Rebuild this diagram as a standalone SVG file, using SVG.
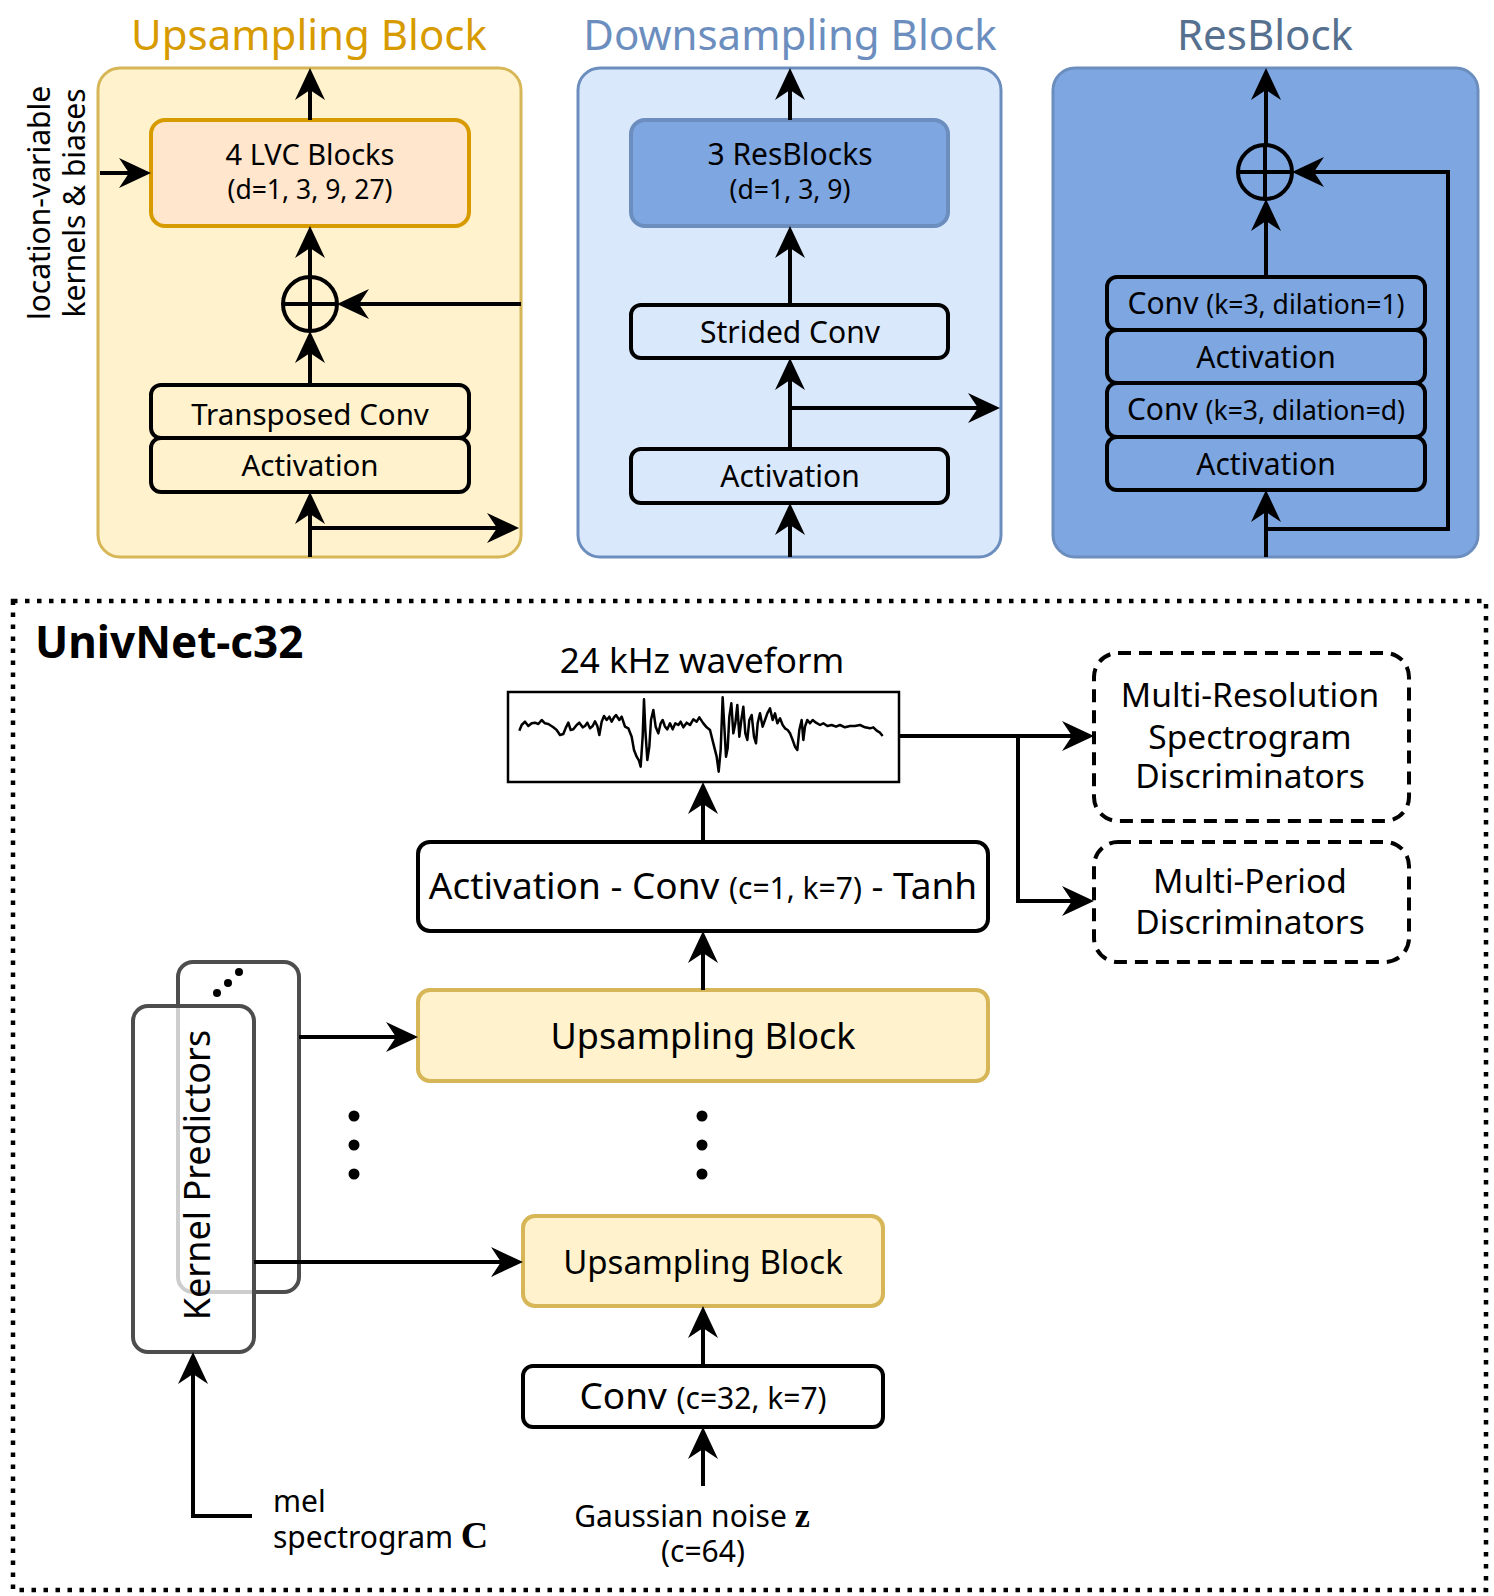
<svg xmlns="http://www.w3.org/2000/svg" width="1494" height="1596" viewBox="0 0 1494 1596">
<defs>
<style>
text{font-family:"Noto Sans","Open Sans","DejaVu Sans",sans-serif;fill:#000}
.t{font-size:30px;text-anchor:middle}
.title{font-size:42px;text-anchor:middle}
.box{fill:#fff;stroke:#000;stroke-width:4}
.ln{fill:none;stroke:#000;stroke-width:4}
.arr{fill:none;stroke:#000;stroke-width:4;marker-end:url(#ah)}
.up{fill:#FFF2CC;stroke:#D6B656;stroke-width:4}
.kp{stroke:#4D4D4D;stroke-width:4}
.disc{fill:#fff;stroke:#000;stroke-width:4;stroke-dasharray:13 8}
.math{font-family:"Liberation Serif","DejaVu Serif",serif;font-weight:bold}
</style>
<marker id="ah" viewBox="0 0 32 30" refX="24" refY="15" markerWidth="32" markerHeight="30" markerUnits="userSpaceOnUse" orient="auto">
<path d="M0,0 L32,15 L0,30 L10,15 Z" fill="#000"/>
</marker>
</defs>
<rect width="1494" height="1596" fill="#fff"/>

<!-- Upsampling Block detail -->
<g id="upsampling-detail">
<text class="title" x="309" y="50" style="fill:#D79B00">Upsampling Block</text>
<rect x="98" y="68" width="423" height="489" rx="22" fill="#FFF2CC" stroke="#D6B656" stroke-width="3"/>
<g id="lvc"><rect x="151" y="120" width="318" height="106" rx="14" fill="#FFE6CC" stroke="#D79B00" stroke-width="4"/>
<text class="t" x="310" y="165" style="font-size:29px">4 LVC Blocks<tspan x="310" dy="34" style="font-size:26.5px">(d=1, 3, 9, 27)</tspan></text></g>
<g id="upsum"><circle cx="310" cy="304" r="27" fill="none" stroke="#000" stroke-width="4"/>
<line x1="283" y1="304" x2="337" y2="304" class="ln"/></g>
<g id="tconv"><rect x="151" y="385" width="318" height="53" rx="10" fill="none" stroke="#000" stroke-width="4"/>
<text class="t" x="310" y="425" style="font-size:29.5px">Transposed Conv</text></g>
<g id="uact"><rect x="151" y="438" width="318" height="54" rx="10" fill="none" stroke="#000" stroke-width="4"/>
<text class="t" x="310" y="476" style="font-size:29.5px">Activation</text></g>
<text x="50" y="203" transform="rotate(-90 50 203)" style="font-size:30px;text-anchor:middle">location-variable<tspan x="50" dy="35">kernels &amp; biases</tspan></text>
</g>

<!-- Downsampling Block detail -->
<g id="downsampling-detail">
<text class="title" x="790" y="50" style="fill:#6C8EBF">Downsampling Block</text>
<rect x="578" y="68" width="423" height="489" rx="22" fill="#DAE8FC" stroke="#6C8EBF" stroke-width="3"/>
<g id="resblocks3"><rect x="631" y="120" width="317" height="106" rx="14" fill="#7EA6E0" stroke="#6C8EBF" stroke-width="4"/>
<text class="t" x="790" y="165">3 ResBlocks<tspan x="790" dy="34" style="font-size:26.5px">(d=1, 3, 9)</tspan></text></g>
<g id="strided"><rect x="631" y="305" width="317" height="53" rx="10" fill="#DAE8FC" stroke="#000" stroke-width="4"/>
<text class="t" x="790" y="343">Strided Conv</text></g>
<g id="dact"><rect x="631" y="449" width="317" height="54" rx="10" fill="#DAE8FC" stroke="#000" stroke-width="4"/>
<text class="t" x="790" y="487">Activation</text></g>
</g>

<!-- ResBlock detail -->
<g id="resblock-detail">
<text class="title" x="1265" y="50" style="fill:#56718F">ResBlock</text>
<rect x="1053" y="68" width="425" height="489" rx="22" fill="#7EA6E0" stroke="#6C8EBF" stroke-width="3"/>
<g id="rsum"><circle cx="1265" cy="172" r="27" fill="none" stroke="#000" stroke-width="4"/>
<line x1="1238" y1="172" x2="1292" y2="172" class="ln"/></g>
<g id="rconv1"><rect x="1107" y="277" width="318" height="53" rx="10" fill="#7EA6E0" stroke="#000" stroke-width="4"/>
<text class="t" x="1266" y="314">Conv <tspan style="font-size:26.5px">(k=3, dilation=1)</tspan></text></g>
<g id="ract1"><rect x="1107" y="330" width="318" height="53" rx="10" fill="#7EA6E0" stroke="#000" stroke-width="4"/>
<text class="t" x="1266" y="368">Activation</text></g>
<g id="rconv2"><rect x="1107" y="383" width="318" height="54" rx="10" fill="#7EA6E0" stroke="#000" stroke-width="4"/>
<text class="t" x="1266" y="420">Conv <tspan style="font-size:26.5px">(k=3, dilation=d)</tspan></text></g>
<g id="ract2"><rect x="1107" y="437" width="318" height="53" rx="10" fill="#7EA6E0" stroke="#000" stroke-width="4"/>
<text class="t" x="1266" y="475">Activation</text></g>
</g>

<!-- UnivNet frame -->
<g id="univnet">
<rect x="13" y="601" width="1473" height="989" fill="none" stroke="#000" stroke-width="4.5" stroke-dasharray="4.5 7.5"/>
<text x="35" y="658" style="font-size:44px;font-weight:bold">UnivNet-c32</text>
</g>

<g id="waveform">
<text x="702" y="673" style="font-size:35px;text-anchor:middle">24 kHz waveform</text>
<rect x="508" y="692" width="391" height="90" fill="#fff" stroke="#000" stroke-width="2.5"/>
<path transform="translate(490 640) scale(0.33333)" vector-effect="non-scaling-stroke" fill="none" stroke="#000" stroke-width="2.5" stroke-linejoin="round" d="M88,272 L95,255 105,245 115,258 125,250 135,248 145,252 155,240 165,250 175,252 190,262 200,270 210,285 220,282 228,262 235,248 242,270 250,268 260,255 268,248 278,262 285,258 292,248 300,265 308,258 315,244 322,258 328,285 335,245 342,228 350,240 358,230 365,245 372,232 378,225 388,240 395,230 405,260 415,265 425,290 432,330 440,350 447,362 452,380 458,290 462,178 466,270 472,360 478,320 483,240 490,210 497,260 505,280 512,250 518,240 525,260 532,268 540,250 548,268 556,250 565,255 572,245 580,262 590,248 600,255 610,238 620,245 628,232 640,250 650,262 660,270 670,310 680,350 686,395 692,330 698,172 703,260 708,350 713,325 718,230 724,190 730,280 736,250 742,195 748,290 754,240 760,200 766,280 772,300 778,240 785,225 792,290 798,310 803,250 810,220 818,260 825,240 832,220 840,205 848,240 855,220 862,250 870,235 878,255 885,265 893,270 900,280 908,300 915,320 922,330 928,270 935,240 940,300 945,260 952,240 960,250 968,240 978,248 990,255 1000,250 1012,258 1025,255 1038,260 1050,255 1065,262 1080,258 1095,258 1110,255 1125,262 1140,265 1150,262 1160,272 1170,278 1178,288"/>
</g>

<g id="act-conv-tanh">
<rect class="box" x="418" y="842" width="570" height="89" rx="12"/>
<text x="703" y="899" style="font-size:37px;text-anchor:middle">Activation - Conv <tspan style="font-size:30px">(c=1, k=7)</tspan> - Tanh</text>
</g>

<g id="upsampling-1">
<rect class="up" x="418" y="990" width="570" height="91" rx="12"/>
<text x="703" y="1049" style="font-size:36px;text-anchor:middle">Upsampling Block</text>
</g>

<g id="dots">
<circle cx="702" cy="1116" r="5.5"/><circle cx="702" cy="1145" r="5.5"/><circle cx="702" cy="1174" r="5.5"/>
<circle cx="354" cy="1116" r="5.5"/><circle cx="354" cy="1145" r="5.5"/><circle cx="354" cy="1174" r="5.5"/>
</g>

<g id="upsampling-n">
<rect class="up" x="523" y="1216" width="360" height="90" rx="12"/>
<text x="703" y="1274" style="font-size:33px;text-anchor:middle">Upsampling Block</text>
</g>

<g id="conv-in">
<rect class="box" x="523" y="1366" width="360" height="61" rx="10"/>
<text x="703" y="1409" style="font-size:37px;text-anchor:middle">Conv <tspan style="font-size:30px">(c=32, k=7)</tspan></text>
</g>

<g id="kernel-predictors">
<rect class="kp" x="178" y="962" width="121" height="330" rx="15" fill="#fff"/>
<circle cx="217" cy="993" r="4"/><circle cx="228" cy="983" r="4"/><circle cx="239" cy="972" r="4"/>
<rect class="kp" x="133" y="1006" width="121" height="346" rx="15" fill="#fff" fill-opacity="0.72"/>
<text x="210" y="1175" transform="rotate(-90 210 1175)" style="font-size:36px;text-anchor:middle">Kernel Predictors</text>
</g>

<g id="mel-label">
<text x="273" y="1512" style="font-size:30px">mel<tspan x="273" dy="36">spectrogram <tspan class="math" style="font-size:38px">C</tspan></tspan></text>
</g>

<g id="noise-label">
<text x="692" y="1527" style="font-size:30px;text-anchor:middle">Gaussian noise <tspan class="math" style="font-size:34px">z</tspan><tspan x="703" dy="35">(c=64)</tspan></text>
</g>

<g id="mrsd">
<rect class="disc" x="1094" y="653" width="315" height="168" rx="24"/>
<text x="1250" y="707" style="font-size:33.5px;text-anchor:middle">Multi-Resolution<tspan x="1250" dy="42">Spectrogram</tspan><tspan x="1250" dy="39">Discriminators</tspan></text>
</g>

<g id="mpd">
<rect class="disc" x="1094" y="842" width="315" height="120" rx="24"/>
<text x="1250" y="893" style="font-size:33.5px;text-anchor:middle">Multi-Period<tspan x="1250" dy="41">Discriminators</tspan></text>
</g>

<g id="connectors">
<!-- upsampling detail -->
<path class="arr" d="M310,120 V76"/>
<path class="arr" d="M310,277 V234"/>
<path class="arr" d="M310,385 V339"/>
<path class="arr" d="M310,557 V500"/>
<path class="arr" d="M310,528 H511"/>
<path class="arr" d="M521,304 H345"/>
<path class="arr" d="M100,173 H143"/>
<line class="ln" x1="310" y1="277" x2="310" y2="331"/>
<!-- downsampling detail -->
<path class="arr" d="M790,120 V76"/>
<path class="arr" d="M790,305 V234"/>
<path class="arr" d="M790,449 V366"/>
<path class="arr" d="M790,557 V511"/>
<path class="arr" d="M790,408 H992"/>
<!-- resblock detail -->
<path class="arr" d="M1266,145 V76"/>
<line class="ln" x1="1265" y1="145" x2="1265" y2="199"/>
<path class="arr" d="M1266,277 V207"/>
<path class="arr" d="M1266,557 V498"/>
<path class="arr" d="M1266,529 H1448 V172 H1300"/>
<!-- univnet -->
<path class="arr" d="M703,842 V790"/>
<path class="arr" d="M703,990 V939"/>
<path class="arr" d="M703,1366 V1314"/>
<path class="arr" d="M703,1486 V1435"/>
<path class="arr" d="M299,1037 H410"/>
<path class="arr" d="M254,1262 H515"/>
<path class="arr" d="M252,1516 H193 V1360"/>
<path class="arr" d="M899,736 H1086"/>
<path class="arr" d="M1018,736 V901 H1086"/>
</g>
</svg>
